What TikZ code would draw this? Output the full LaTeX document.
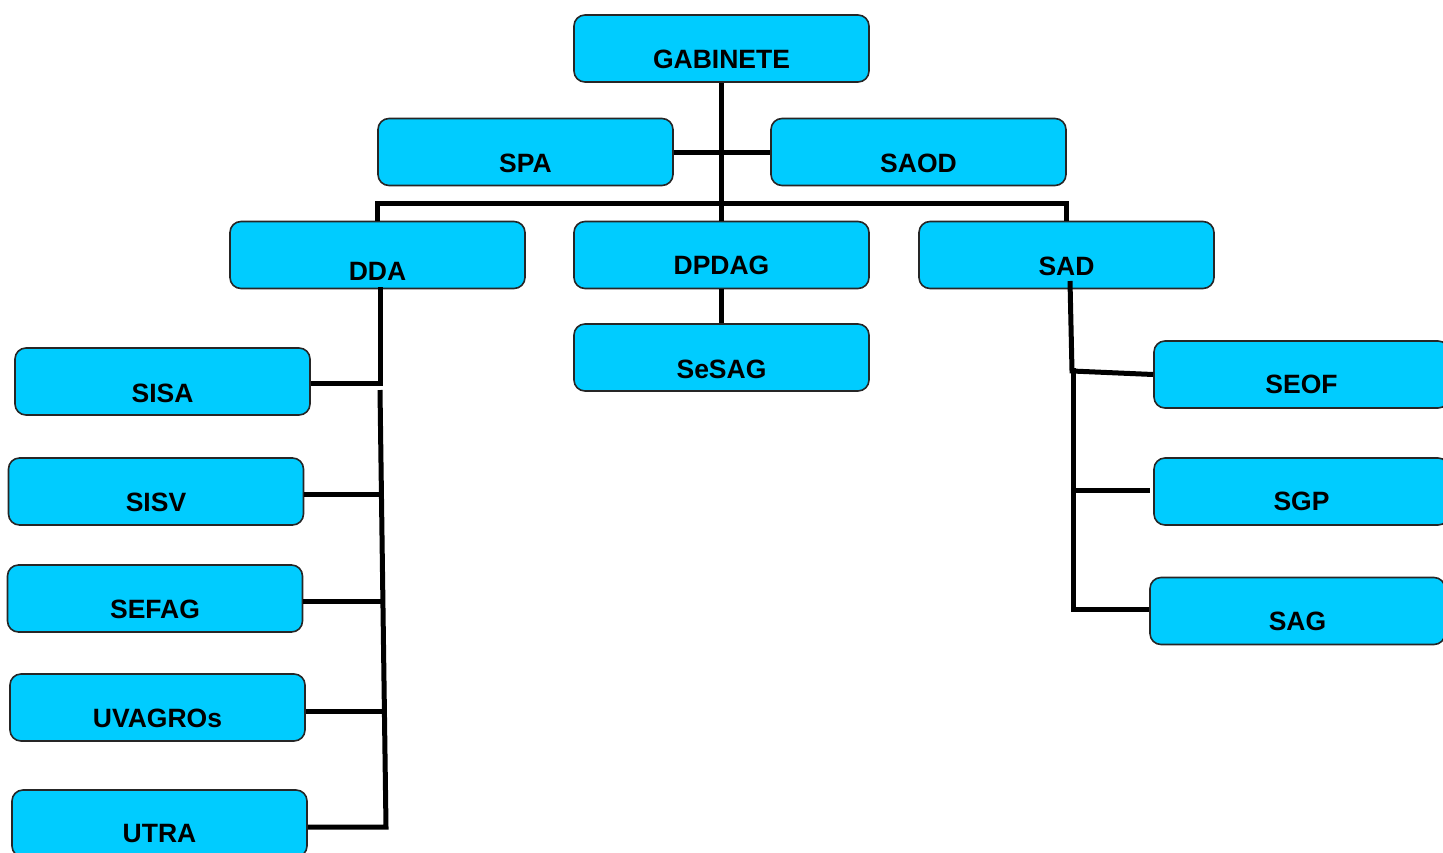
\documentclass[tikz,border=0pt]{standalone}
\usepackage{fontspec}
\setmainfont{Liberation Sans}
\usepackage{tikz}

\definecolor{unitblue}{HTML}{00CCFF}

\begin{document}
\begin{tikzpicture}[x=1pt, y=-1pt,
    unit/.style={draw=black!85, line width=1.6pt, fill=unitblue, rounded corners=11pt, minimum width=295pt, minimum height=67pt, inner sep=0pt},
    unitname/.style={font=\fontsize{26.5}{30}\selectfont\bfseries, inner sep=0pt},
    orgline/.style={line width=5pt}]

    \clip (0,0) rectangle (1443,852);

    \node[unit] (gab) at (721.5, 48.5) {};
    \node[unit] (spa) at (525.5, 152) {};
    \node[unit] (saod) at (918.5, 152) {};
    \node[unit] (dda) at (377.5, 255) {};
    \node[unit] (dpdag) at (721.5, 255) {};
    \node[unit] (sad) at (1066.5, 255) {};
    \node[unit] (sesag) at (721.5, 357.5) {};
    \node[unit] (sisa) at (162.5, 381.5) {};
    \node[unit] (sisv) at (156, 491.5) {};
    \node[unit] (sefag) at (155, 598.5) {};
    \node[unit] (uvagros) at (157.5, 707.5) {};
    \node[unit] (utra) at (159.5, 823.5) {};
    \node[unit] (seof) at (1301.5, 374.5) {};
    \node[unit] (sgp) at (1301.5, 491.5) {};
    \node[unit] (sag) at (1297.5, 611) {};

    \node[unitname] (gabt) at (721.5, 59.5) {GABINETE};
    \node[unitname] (spat) at (525.5, 163) {SPA};
    \node[unitname] (saodt) at (918.5, 163) {SAOD};
    \node[unitname] (ddat) at (377.5, 271) {DDA};
    \node[unitname] (dpdagt) at (721.5, 265) {DPDAG};
    \node[unitname] (sadt) at (1066.5, 266) {SAD};
    \node[unitname] (sesagt) at (721.5, 369) {SeSAG};
    \node[unitname] (sisat) at (162.5, 393) {SISA};
    \node[unitname] (sisvt) at (156, 502) {SISV};
    \node[unitname] (sefagt) at (155, 609) {SEFAG};
    \node[unitname] (uvagrost) at (157.5, 718) {UVAGROs};
    \node[unitname] (utrat) at (159.5, 834) {UTRA};
    \node[unitname] (seoft) at (1301.5, 384.5) {SEOF};
    \node[unitname] (sgpt) at (1301.5, 501.5) {SGP};
    \node[unitname] (sagt) at (1297.5, 621.5) {SAG};

    % top of the tree
    \draw[orgline] (gab.south) -- (dpdag.north);
    \draw[orgline] (spa.east) -- (saod.west);
    \draw[orgline] (dda.north) -- ++(0,-17) -| (sad.north);
    \draw[orgline] (dpdag.south) -- (sesag.north);

    % DDA branch
    \coordinate (ddatop) at (380, 287);
    \coordinate (ddaj) at (380, 383);
    \coordinate (ddab1) at (380, 390);
    \coordinate (ddab2) at (386, 827);
    \path (ddab1) -- (ddab2) coordinate[pos=0.238] (sisvj) coordinate[pos=0.485] (sefagj) coordinate[pos=0.735] (uvagrosj);
    \draw[orgline] (ddatop) -- (ddaj) -- (sisa.east |- ddaj);
    \draw[orgline] (ddab1) -- (ddab2) -- (utra.east |- ddab2);
    \draw[orgline] (sisvj) -- (sisv.east |- sisvj);
    \draw[orgline] (sefagj) -- (sefag.east |- sefagj);
    \draw[orgline] (uvagrosj) -- (uvagros.east |- uvagrosj);

    % SAD branch
    \coordinate (sadtop) at (1070, 281);
    \coordinate (sadj) at (1072, 371);
    \coordinate (sadb1) at (1073, 368);
    \coordinate (sadb2) at (1073, 609);
    \coordinate (sgpj) at (1073, 490);
    \draw[orgline] (sadtop) -- (sadj) -- (seof.west);
    \draw[orgline] (sadb1) -- (sadb2) -- (sag.west |- sadb2);
    \draw[orgline] (sgpj) -- ([xshift=-3pt]sgp.west |- sgpj);

\end{tikzpicture}
\end{document}
